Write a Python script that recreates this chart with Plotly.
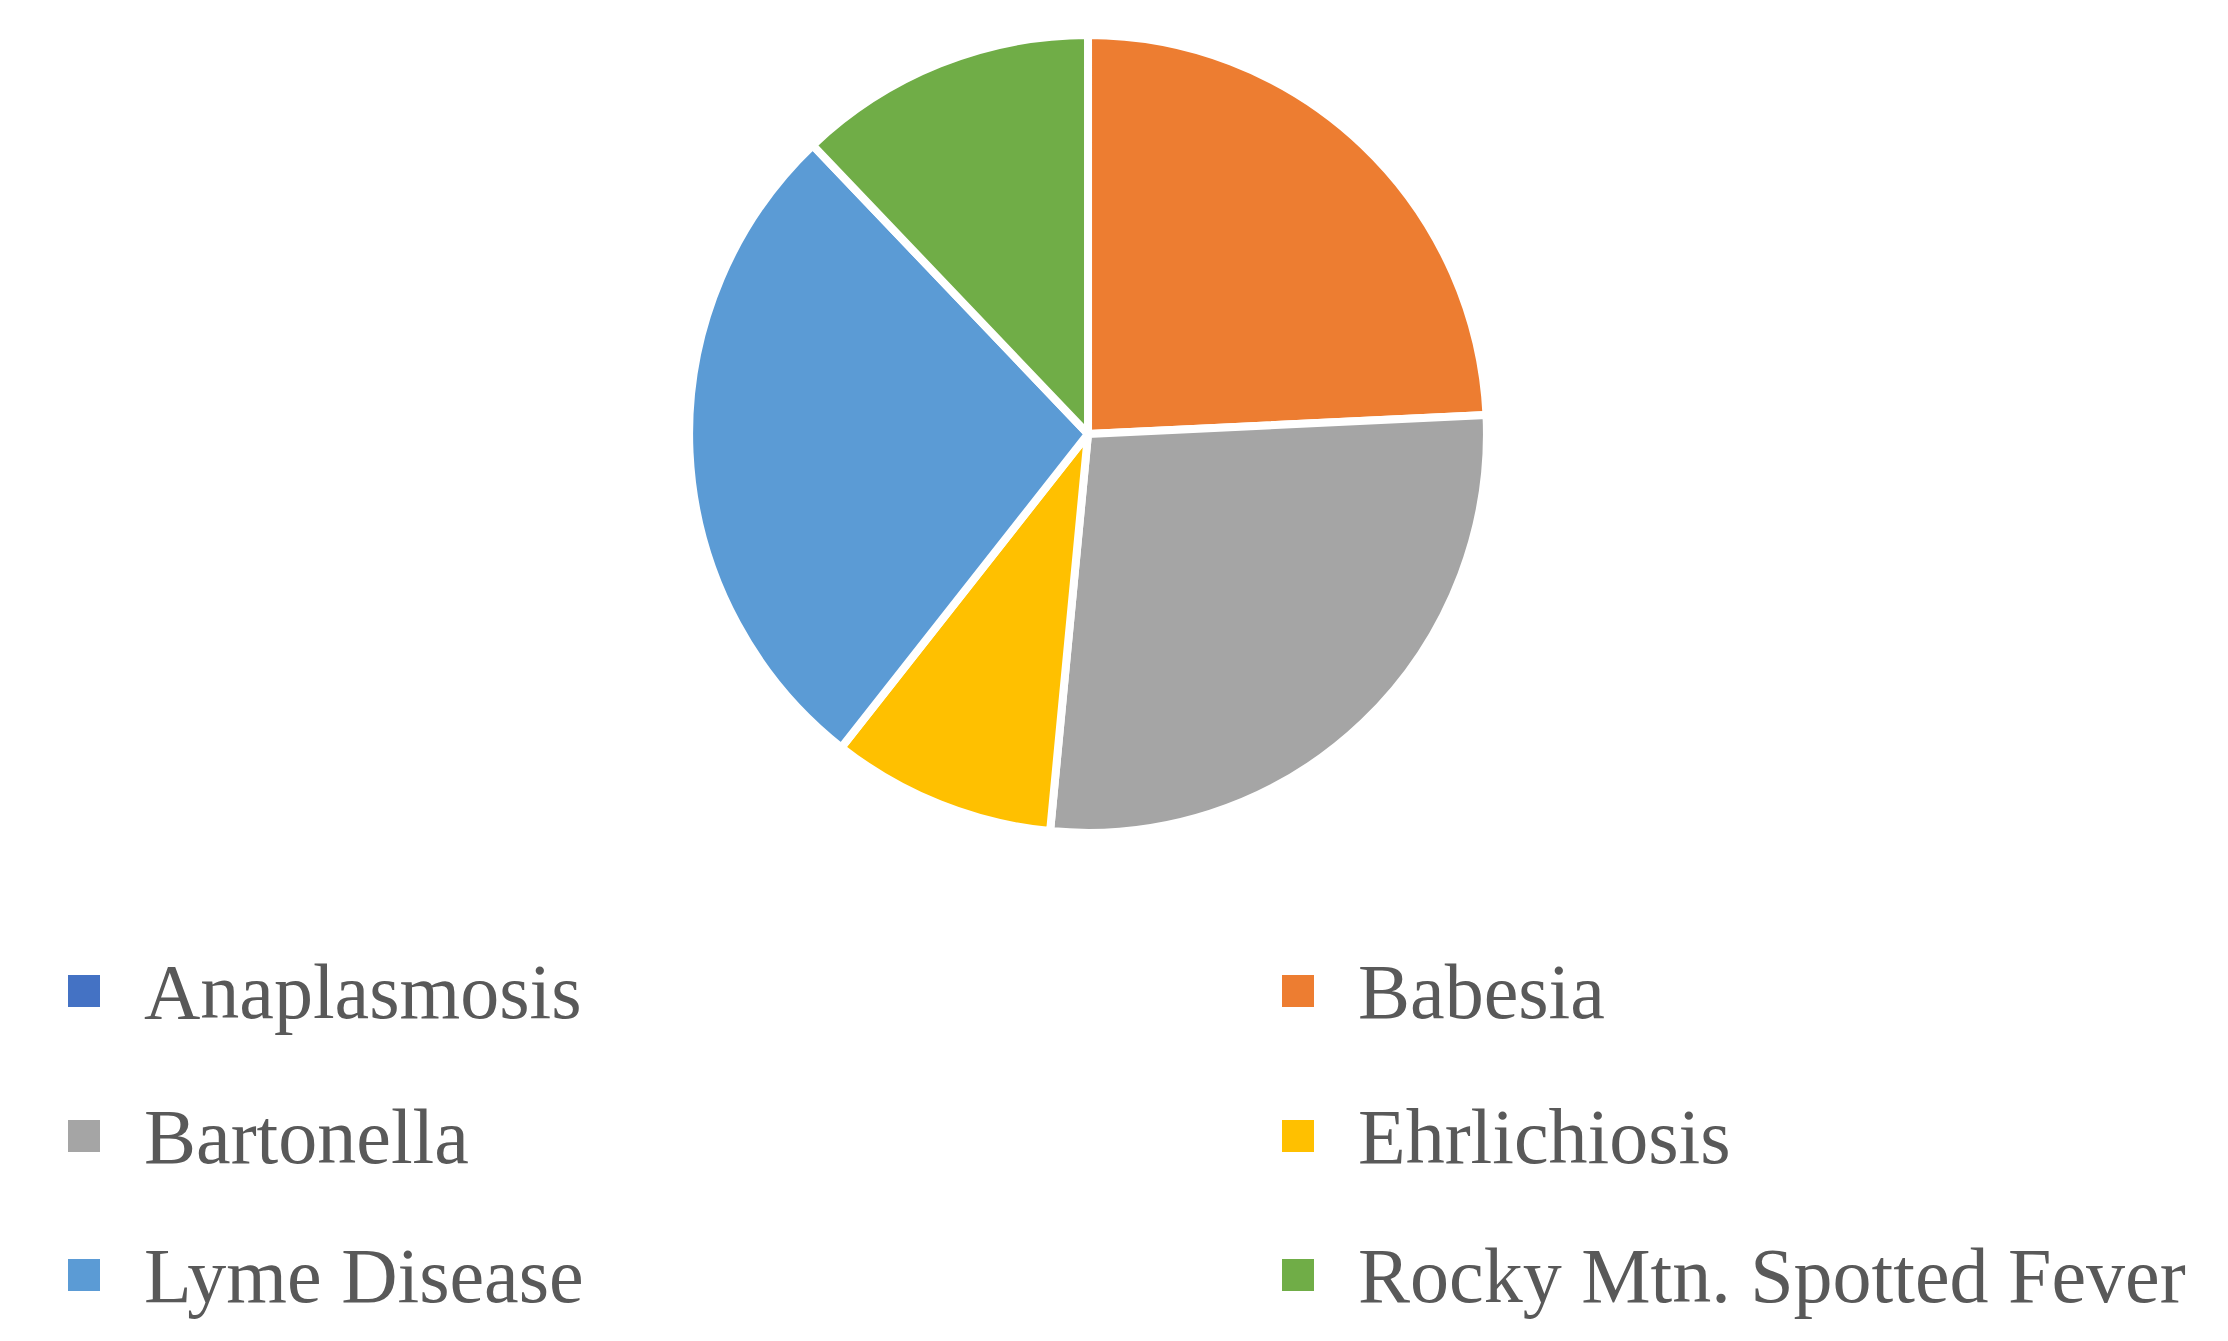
import plotly.graph_objects as go

# ========== DATA ==========
labels = ['Anaplasmosis', 'Babesia', 'Bartonella', 'Ehrlichiosis',
          'Lyme Disease', 'Rocky Mtn. Spotted Fever']
counts = [0, 8, 9, 3, 9, 4]
colors = ['#4472C4', '#ED7D31', '#A5A5A5', '#FFC000', '#5B9BD5', '#70AD47']

W, H = 2228, 1341

fig = go.Figure(go.Pie(
    labels=labels,
    values=counts,
    sort=False,
    direction='clockwise',
    rotation=0,
    textinfo='none',
    hoverinfo='label+value+percent',
    marker=dict(colors=colors, line=dict(color='white', width=8)),
    domain=dict(x=[0.3057, 0.6638], y=[0.3848, 0.9799]),
    showlegend=False,
))

# Legend drawn as 2-column grid (Office-style)
col_marker_x = [76, 1290]
col_text_x = [134, 1348]
row_y = [983, 1128, 1267]
box = 32

for i, (lab, col) in enumerate(zip(labels, colors)):
    r, c = divmod(i, 2)
    cx, cy = col_marker_x[c], row_y[r]
    fig.add_shape(
        type='rect', xref='paper', yref='paper',
        x0=(cx - box / 2) / W, x1=(cx + box / 2) / W,
        y0=1 - (cy + box / 2) / H, y1=1 - (cy - box / 2) / H,
        fillcolor=col, line=dict(width=0),
    )
    fig.add_annotation(
        x=col_text_x[c] / W, y=1 - cy / H,
        xref='paper', yref='paper',
        xanchor='left', yanchor='middle',
        text=lab, showarrow=False,
        font=dict(family='Liberation Serif, serif', size=78, color='#595959'),
    )

fig.update_layout(
    width=W,
    height=H,
    margin=dict(l=0, r=0, t=0, b=0),
    paper_bgcolor='white',
    plot_bgcolor='white',
)

fig.write_html("out.html")
